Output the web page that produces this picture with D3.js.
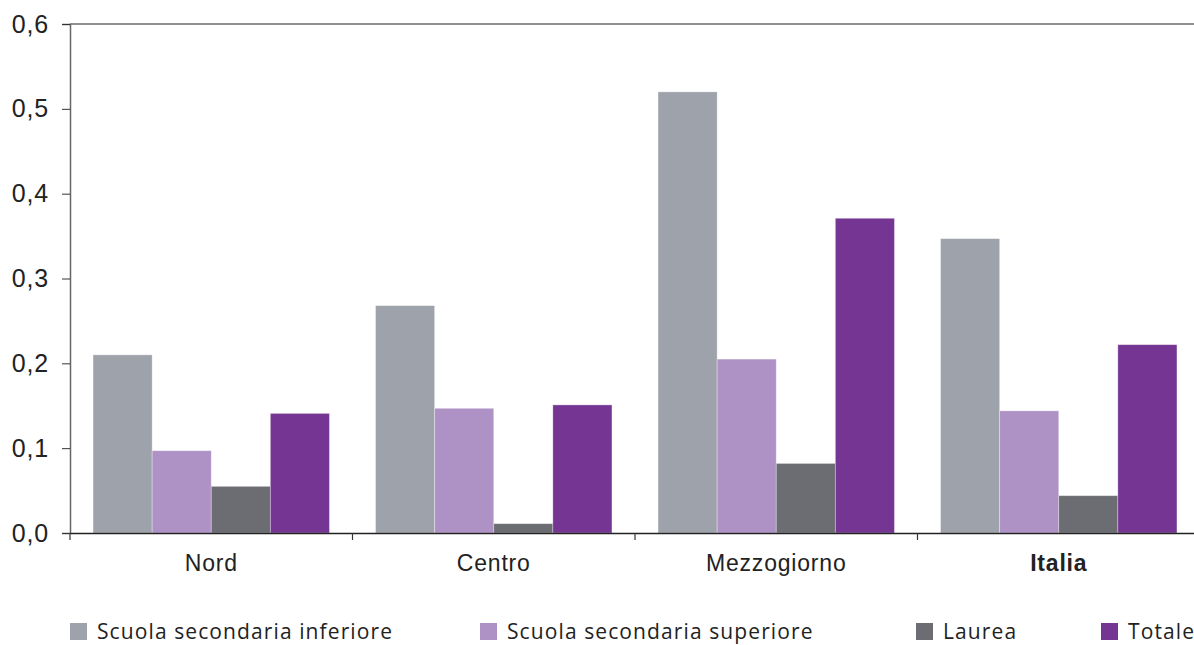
<!DOCTYPE html>
<html>
<head>
<meta charset="utf-8">
<script src="https://cdn.jsdelivr.net/npm/d3@7"></script>
<style>
body { margin: 0; background: #fff; }
svg { display: block; font-family: "Open Sans", sans-serif; }
</style>
</head>
<body>
<svg id="chart" width="1194" height="645"></svg>
<script>
// data
var categories = ["Nord", "Centro", "Mezzogiorno", "Italia"];
var series = ["Scuola secondaria inferiore", "Scuola secondaria superiore", "Laurea", "Totale"];
var inferiore = [0.210, 0.268, 0.520, 0.347];
var superiore = [0.097, 0.147, 0.205, 0.144];
var laurea = [0.055, 0.011, 0.082, 0.044];
var totale = [0.141, 0.151, 0.371, 0.222];
var yTicks = [0, 0.1, 0.2, 0.3, 0.4, 0.5, 0.6];
var colors = ["#9ea2aa", "#ae92c6", "#6c6d72", "#743593"];

var values = [inferiore, superiore, laurea, totale];

var plotLeft = 70, plotRight = 1200, plotTop = 24, plotBottom = 533;

var svg = d3.select("#chart");

var x0 = d3.scaleBand().domain(categories).range([plotLeft, plotRight]);
var x1 = d3.scaleBand().domain(series).range([0, x0.bandwidth()]).paddingOuter(0.39);
var y = d3.scaleLinear().domain([0, 0.6]).range([plotBottom, plotTop]);

// top border
svg.append("line")
    .attr("x1", plotLeft).attr("x2", plotRight)
    .attr("y1", plotTop).attr("y2", plotTop)
    .attr("stroke", "#222").attr("stroke-width", 1.2);

// bars
var groups = svg.selectAll(".cat")
    .data(categories)
    .enter().append("g")
    .attr("transform", function(d) { return "translate(" + x0(d) + ",0)"; });

groups.selectAll("rect")
    .data(function(d, i) {
        return series.map(function(s, j) { return { s: s, v: values[j][i], c: colors[j] }; });
    })
    .enter().append("rect")
    .attr("x", function(d) { return x1(d.s); })
    .attr("y", function(d) { return y(d.v); })
    .attr("width", x1.bandwidth())
    .attr("height", function(d) { return plotBottom - y(d.v); })
    .attr("fill", function(d) { return d.c; })
    .attr("stroke", "#fff").attr("stroke-opacity", 0.4).attr("stroke-width", 0.8);

// y axis
var yAxis = d3.axisLeft(y)
    .tickValues(yTicks)
    .tickSize(8)
    .tickPadding(13)
    .tickFormat(function(d) { return d3.format(".1f")(d).replace(".", ","); });

var gy = svg.append("g")
    .attr("transform", "translate(" + plotLeft + ",0)")
    .call(yAxis);
gy.select(".domain").attr("stroke", "#666").attr("stroke-width", 1.5);
gy.selectAll(".tick line").attr("stroke", "#333");
gy.selectAll(".tick text").attr("font-size", 25).attr("fill", "#222")
    .attr("letter-spacing", 0.8);

// x axis
var xAxis = d3.axisBottom(x0).tickSize(0).tickPadding(22);
var gx = svg.append("g")
    .attr("transform", "translate(0," + plotBottom + ")")
    .call(xAxis);
gx.select(".domain").attr("stroke", "#222").attr("stroke-width", 1.5);
gx.selectAll(".tick text")
    .attr("font-size", 23).attr("fill", "#222")
    .attr("letter-spacing", 0.8)
    .attr("font-weight", function(d) { return d === "Italia" ? "bold" : "normal"; });

// separators between categories
gx.selectAll(".sep")
    .data(categories)
    .enter().append("line")
    .attr("x1", function(d) { return x0(d); })
    .attr("x2", function(d) { return x0(d); })
    .attr("y1", 0).attr("y2", 7)
    .attr("stroke", "#333").attr("stroke-width", 1.2);

// legend
var legendX = [70, 480, 916, 1101];
var legend = svg.selectAll(".leg")
    .data(series)
    .enter().append("g")
    .attr("transform", function(d, i) { return "translate(" + legendX[i] + ",623)"; });
legend.append("rect")
    .attr("width", 17).attr("height", 17)
    .attr("fill", function(d, i) { return colors[i]; });
legend.append("text")
    .attr("x", 27).attr("y", 9)
    .attr("dy", "0.35em")
    .attr("font-size", 21).attr("fill", "#222")
    .attr("letter-spacing", 1.1)
    .text(function(d) { return d; });
</script>
</body>
</html>
